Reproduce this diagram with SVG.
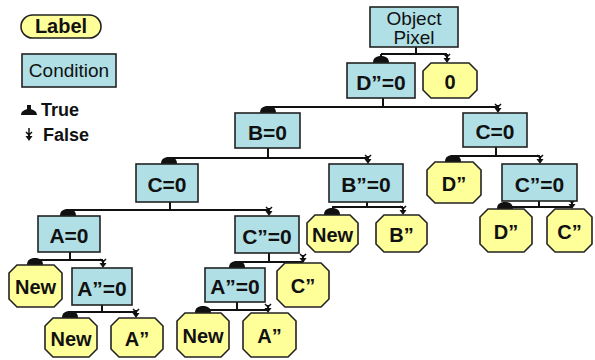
<svg xmlns="http://www.w3.org/2000/svg" xmlns:xlink="http://www.w3.org/1999/xlink" width="595" height="360" viewBox="0 0 595 360">
<style>
.cond{fill:#b0e0e6;stroke:#222;stroke-width:1.6}
.lab{fill:#ffff99;stroke:#222;stroke-width:1.6}
.ln{fill:none;stroke:#111;stroke-width:2}
.t{font-family:"Liberation Sans",Arial,sans-serif;font-weight:bold;font-size:21px;fill:#111;text-anchor:middle}
.l{font-family:"Liberation Sans",Arial,sans-serif;font-weight:bold;font-size:20px;fill:#111;text-anchor:middle}
.r{font-family:"Liberation Sans",Arial,sans-serif;font-size:19px;fill:#111;text-anchor:middle}
.lg{font-family:"Liberation Sans",Arial,sans-serif;font-weight:bold;font-size:18px;fill:#111}
</style>
<defs>
<path id="dome" d="M-8,0 C-8,-5 -5,-7 0,-7 C5,-7 8,-5 8,0 Z" fill="#111"/>
<g id="farrow"><path d="M0,-8 V-3" stroke="#111" stroke-width="2"/><path d="M-3.5,-5 L3.5,-5 L0,0 Z" fill="#111"/><path d="M-3,-9 L0,-6 L3,-9" fill="none" stroke="#111" stroke-width="1.5"/></g>
</defs>

<g id="legend">
<rect class="lab" x="21" y="15" width="80" height="23" rx="11.5"/>
<text class="l" x="61" y="33" font-size="19">Label</text>
<rect class="cond" x="22" y="54" width="94" height="33"/>
<text class="r" x="69" y="77">Condition</text>
<path d="M21,115 L37,115 C37,111 33,110 31,109 L31,105 L27,105 L27,109 C25,110 21,111 21,115 Z" fill="#111"/>
<text class="lg" x="41" y="116">True</text>
<use xlink:href="#farrow" x="29" y="141"/>
<path d="M29,128 V136" stroke="#111" stroke-width="1.5"/>
<text class="lg" x="43" y="141">False</text>
</g>

<g id="connectors">
<path class="ln" d="M416,47 V54 M381,54 H447"/>
<use xlink:href="#dome" x="381" y="63"/><path class="ln" d="M381,54 V58"/>
<use xlink:href="#farrow" x="447" y="63"/><path class="ln" d="M447,54 V56"/>

<path class="ln" d="M383,98 V107 M268,107 H498"/>
<use xlink:href="#dome" x="268" y="113"/>
<use xlink:href="#farrow" x="498" y="113"/>

<path class="ln" d="M268,148 V158 M169,158 H368"/>
<use xlink:href="#dome" x="169" y="164"/>
<use xlink:href="#farrow" x="368" y="164"/>

<path class="ln" d="M496,147 V156 M453,156 H540"/>
<use xlink:href="#dome" x="453" y="162"/>
<use xlink:href="#farrow" x="540" y="164"/>

<path class="ln" d="M170,202 V210 M68,210 H269"/>
<use xlink:href="#dome" x="68" y="216"/>
<use xlink:href="#farrow" x="269" y="216"/>

<path class="ln" d="M367,202 V207 M332,207 H403"/>
<use xlink:href="#dome" x="332" y="215"/>
<use xlink:href="#farrow" x="403" y="215"/>

<path class="ln" d="M539,201 V207 M505,207 H572"/>
<use xlink:href="#dome" x="505" y="209"/>
<use xlink:href="#farrow" x="572" y="209"/>

<path class="ln" d="M70,252 V260 M35,260 H103"/>
<use xlink:href="#dome" x="35" y="265"/>
<use xlink:href="#farrow" x="103" y="268"/>

<path class="ln" d="M269,253 V262 M237,262 H303"/>
<use xlink:href="#dome" x="237" y="268"/>
<use xlink:href="#farrow" x="303" y="263"/><path class="ln" d="M303,262 V256"/>

<path class="ln" d="M102,305 V312 M70,312 H136"/>
<use xlink:href="#dome" x="70" y="318"/>
<use xlink:href="#farrow" x="136" y="318"/>

<path class="ln" d="M237,302 V310 M203,310 H268"/>
<use xlink:href="#dome" x="203" y="313"/>
<use xlink:href="#farrow" x="268" y="313"/>
</g>

<g id="n-object"><rect class="cond" x="370" y="7" width="88" height="40"/><text class="r" x="414" y="25" font-size="17">Object</text><text class="r" x="414" y="44" font-size="17">Pixel</text></g>
<g id="n-d0"><rect class="cond" x="347" y="63" width="68" height="35"/><text class="t" x="381" y="89.5">D”=0</text></g>
<g id="l-0"><polygon class="lab" points="431,63 469,63 477,71 477,90 469,98 431,98 423,90 423,71"/><text class="l" x="450" y="88.5">0</text></g>
<g id="n-b0"><rect class="cond" x="235" y="113" width="65" height="35"/><text class="t" x="267.5" y="139.5">B=0</text></g>
<g id="n-c0r"><rect class="cond" x="463" y="113" width="64" height="34"/><text class="t" x="495" y="139">C=0</text></g>
<g id="n-c0l"><rect class="cond" x="136" y="164" width="62" height="38"/><text class="t" x="167" y="192">C=0</text></g>
<g id="n-b2"><rect class="cond" x="329" y="164" width="74" height="38"/><text class="t" x="366" y="192">B”=0</text></g>
<g id="l-d1"><polygon class="lab" points="435,162 473,162 481,170 481,195 473,203 435,203 427,195 427,170"/><text class="l" x="454" y="190.5">D”</text></g>
<g id="n-c2r"><rect class="cond" x="502" y="164" width="75" height="37"/><text class="t" x="539.5" y="191.5">C”=0</text></g>
<g id="n-a0"><rect class="cond" x="38" y="216" width="62" height="36"/><text class="t" x="69" y="243">A=0</text></g>
<g id="n-c2m"><rect class="cond" x="235" y="216" width="64" height="37"/><text class="t" x="267" y="243.5">C”=0</text></g>
<g id="l-new1"><polygon class="lab" points="315,215 350,215 358,223 358,244 350,252 315,252 307,244 307,223"/><text class="l" x="332.5" y="241.5">New</text></g>
<g id="l-b2"><polygon class="lab" points="384,215 419,215 427,223 427,244 419,252 384,252 376,244 376,223"/><text class="l" x="401.5" y="241.5">B”</text></g>
<g id="l-d2"><polygon class="lab" points="488,209 524,209 532,217 532,244 524,252 488,252 480,244 480,217"/><text class="l" x="506" y="238.5">D”</text></g>
<g id="l-c2r"><polygon class="lab" points="555,209 584,209 592,217 592,244 584,252 555,252 547,244 547,217"/><text class="l" x="569.5" y="238.5">C”</text></g>
<g id="l-new2"><polygon class="lab" points="17,265 54,265 62,273 62,299 54,307 17,307 9,299 9,273"/><text class="l" x="35.5" y="294">New</text></g>
<g id="n-a2l"><rect class="cond" x="72" y="268" width="60" height="37"/><text class="t" x="102" y="295.5">A”=0</text></g>
<g id="n-a2m"><rect class="cond" x="205" y="268" width="60" height="34"/><text class="t" x="235" y="294">A”=0</text></g>
<g id="l-c2m"><polygon class="lab" points="285,263 321,263 329,271 329,299 321,307 285,307 277,299 277,271"/><text class="l" x="303" y="293">C”</text></g>
<g id="l-new3"><polygon class="lab" points="53,318 89,318 97,326 97,349 89,357 53,357 45,349 45,326"/><text class="l" x="71" y="345.5">New</text></g>
<g id="l-a2l"><polygon class="lab" points="119,318 155,318 163,326 163,349 155,357 119,357 111,349 111,326"/><text class="l" x="137" y="345.5">A”</text></g>
<g id="l-new4"><polygon class="lab" points="185,313 221,313 229,321 229,349 221,357 185,357 177,349 177,321"/><text class="l" x="203" y="343">New</text></g>
<g id="l-a2m"><polygon class="lab" points="251,313 288,313 296,321 296,349 288,357 251,357 243,349 243,321"/><text class="l" x="269.5" y="343">A”</text></g>
</svg>
